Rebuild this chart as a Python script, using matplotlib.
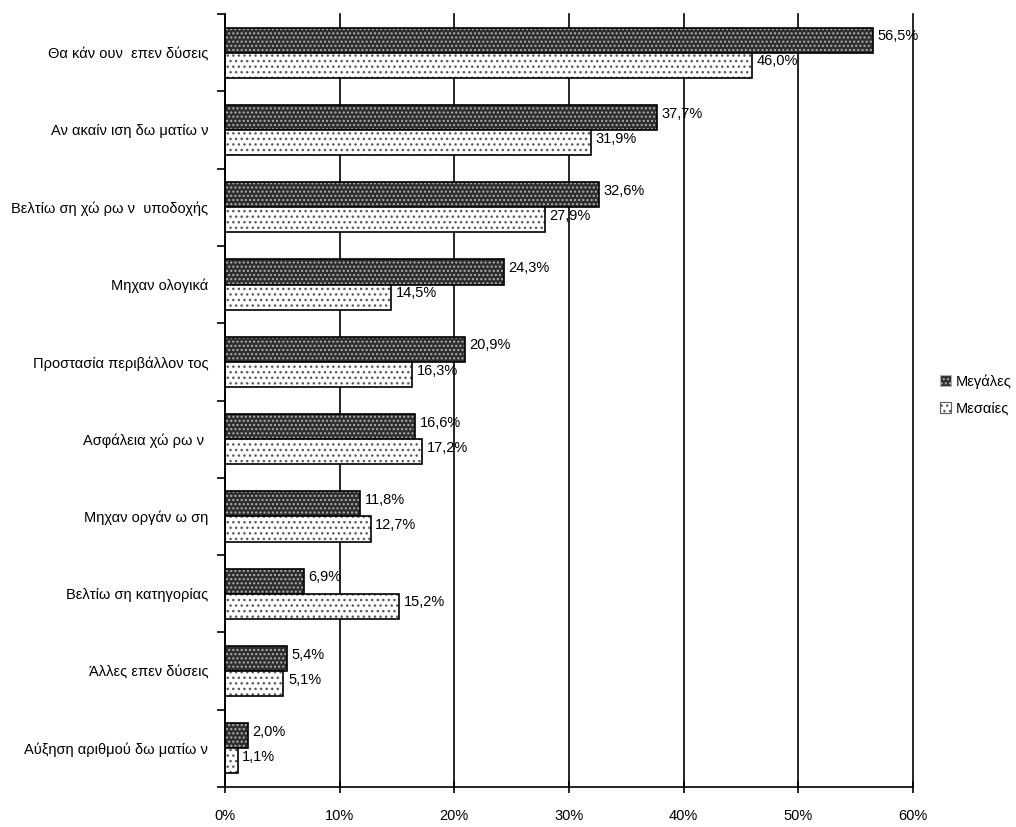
import matplotlib.pyplot as plt
import numpy as np
from matplotlib.patches import Patch

# data
categories = ["Θα κάν ουν  επεν δύσεις", "Αν ακαίν ιση δω ματίω ν", "Βελτίω ση χώ ρω ν  υποδοχής",
              "Μηχαν ολογικά", "Προστασία περιβάλλον τος", "Ασφάλεια χώ ρω ν ",
              "Μηχαν οργάν ω ση", "Βελτίω ση κατηγορίας", "Άλλες επεν δύσεις",
              "Αύξηση αριθμού δω ματίω ν"]
megales = [56.5, 37.7, 32.6, 24.3, 20.9, 16.6, 11.8, 6.9, 5.4, 2.0]
mesaies = [46.0, 31.9, 27.9, 14.5, 16.3, 17.2, 12.7, 15.2, 5.1, 1.1]
series_names = ["Μεγάλες", "Μεσαίες"]
xticks = [0, 10, 20, 30, 40, 50, 60]

plt.rcParams['font.family'] = ['Liberation Sans', 'DejaVu Sans']
plt.rcParams['hatch.linewidth'] = 1.0

fig = plt.figure(figsize=(10.16, 8.27), dpi=100)
ax = fig.add_axes([225 / 1016, 40 / 827, 688 / 1016, 773 / 827])

y = np.arange(len(categories))
h = 0.325

ax.set_axisbelow(True)
ax.grid(axis="x", color="black", linewidth=1.2)
for gl in ax.get_xgridlines():
    gl.set_clip_on(False)

# dark bars: dark fill with light dots
ax.barh(y - h / 2, megales, height=h, color="#2e2e2e", edgecolor="#b0b0b0",
        hatch="....", linewidth=0)
ax.barh(y - h / 2, megales, height=h, fill=False, edgecolor="black", linewidth=1.2)
# light bars: white with dark dots
ax.barh(y + h / 2, mesaies, height=h, color="white", edgecolor="#5a5a5a",
        hatch="...", linewidth=0)
ax.barh(y + h / 2, mesaies, height=h, fill=False, edgecolor="black", linewidth=1.2)

for yy, v in zip(y, megales):
    ax.text(v + 0.4, yy - h / 2 - 0.05, f"{v:.1f}%".replace(".", ","),
            va="center", ha="left", fontsize=10.5)
for yy, v in zip(y, mesaies):
    ax.text(v + 0.4, yy + h / 2 - 0.05, f"{v:.1f}%".replace(".", ","),
            va="center", ha="left", fontsize=10.5)

ax.set_xlim(0, 60)
ax.set_ylim(len(categories) - 0.5, -0.5)
ax.set_xticks(xticks)
ax.set_xticklabels([f"{t}%" for t in xticks], fontsize=10.5)
ax.set_yticks(y)
ax.set_yticklabels(categories, fontsize=10.5)
ax.set_yticks(np.arange(-0.5, len(categories), 1), minor=True)
ax.tick_params(axis="y", which="major", length=0, pad=12)
ax.tick_params(axis="y", which="minor", length=6, width=1.2, direction="out")
ax.tick_params(axis="x", length=8, width=1.2, direction="inout", pad=12)

for gl in ax.get_xgridlines():
    gl.set_clip_on(False)

for s in ["top", "right"]:
    ax.spines[s].set_visible(False)
for s in ["left", "bottom"]:
    ax.spines[s].set_linewidth(1.2)

# legend
handles = [Patch(facecolor="#2e2e2e", edgecolor="#b0b0b0", hatch="...."),
           Patch(facecolor="white", edgecolor="#5a5a5a", hatch="...")]
leg = fig.legend(handles, series_names, loc="center left",
                 bbox_to_anchor=(940 / 1016, 1 - 395 / 827),
                 frameon=False, fontsize=10.5, handlelength=0.75, handleheight=0.75,
                 handletextpad=0.35, labelspacing=0.9, borderpad=0, borderaxespad=0)
for p in leg.get_patches():
    p.set_linewidth(0.8)

plt.savefig("out.png", dpi=100)
